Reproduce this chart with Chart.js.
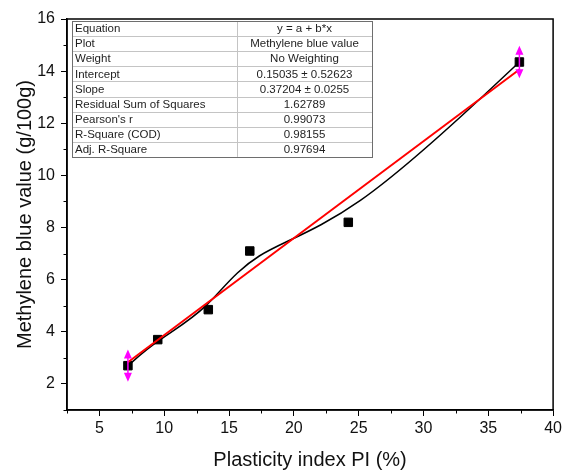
<!DOCTYPE html>
<html>
<head>
<meta charset="utf-8">
<title>Methylene blue vs PI</title>
<script src="https://cdn.jsdelivr.net/npm/chart.js@4.4.0/dist/chart.umd.min.js"></script>
<style>
    html, body { margin: 0; padding: 0; background: #fff; }
    #contenedor { width: 565px; height: 473px; }
</style>
</head>
<body>
<div id="contenedor"><canvas id="graficoAzul" width="565" height="473"></canvas></div>
<script>
// Datos medidos
const indicePlasticidad = [7.2, 9.5, 13.4, 16.6, 24.2, 37.4];
const azulMetileno = [2.7, 3.7, 4.85, 7.1, 8.2, 14.35];
const barrasError = [0.62, 0, 0, 0, 0, 0.62];

// Ajuste lineal (y = a + b*x)
const intercepto = 0.15035;
const pendiente = 0.37204;

// Tabla de resultados del ajuste
const filasTabla = ['Equation', 'Plot', 'Weight', 'Intercept', 'Slope',
    'Residual Sum of Squares', "Pearson's r", 'R-Square (COD)', 'Adj. R-Square'];
const valoresTabla = ['y = a + b*x', 'Methylene blue value', 'No Weighting',
    '0.15035 \u00b1 0.52623', '0.37204 \u00b1 0.0255', '1.62789', '0.99073', '0.98155', '0.97694'];

// Marcas de los ejes
const ticksX = [5, 10, 15, 20, 25, 30, 35, 40];
const ticksY = [2, 4, 6, 8, 10, 12, 14, 16];

const fuente = '"Liberation Sans", Arial, sans-serif';
const xMin = indicePlasticidad[0];
const xMax = indicePlasticidad[indicePlasticidad.length - 1];

const extras = {
    id: 'extras',
    // curva B-spline (puntos como control) debajo de todo
    beforeDatasetsDraw(chart) {
        const { ctx, scales: { x, y } } = chart;
        const p = indicePlasticidad.map((v, i) => [x.getPixelForValue(v), y.getPixelForValue(azulMetileno[i])]);
        const n = p.length;
        const cp = [p[0], p[0], ...p, p[n - 1], p[n - 1]];
        ctx.save();
        ctx.strokeStyle = '#000';
        ctx.lineWidth = 1.5;
        ctx.beginPath();
        ctx.moveTo(p[0][0], p[0][1]);
        for (let i = 0; i + 3 < cp.length; i++) {
            const B = cp[i + 1], C = cp[i + 2], D = cp[i + 3];
            ctx.bezierCurveTo(
                (2 * B[0] + C[0]) / 3, (2 * B[1] + C[1]) / 3,
                (B[0] + 2 * C[0]) / 3, (B[1] + 2 * C[1]) / 3,
                (B[0] + 4 * C[0] + D[0]) / 6, (B[1] + 4 * C[1] + D[1]) / 6);
        }
        ctx.stroke();
        ctx.restore();
    },
    afterDatasetsDraw(chart) {
        const { ctx, scales: { x, y } } = chart;
        ctx.save();
        ctx.strokeStyle = '#ff00ff';
        ctx.fillStyle = '#ff00ff';
        ctx.lineWidth = 1.5;
        barrasError.forEach((e, i) => {
            if (!e) return;
            const px = x.getPixelForValue(indicePlasticidad[i]);
            const arriba = y.getPixelForValue(azulMetileno[i] + e);
            const abajo = y.getPixelForValue(azulMetileno[i] - e);
            ctx.beginPath();
            ctx.moveTo(px, arriba + 4);
            ctx.lineTo(px, abajo - 4);
            ctx.stroke();
            // puntas de flecha
            ctx.beginPath();
            ctx.moveTo(px, arriba);
            ctx.lineTo(px - 4, arriba + 9);
            ctx.lineTo(px + 4, arriba + 9);
            ctx.closePath();
            ctx.moveTo(px, abajo);
            ctx.lineTo(px - 4, abajo - 9);
            ctx.lineTo(px + 4, abajo - 9);
            ctx.closePath();
            ctx.fill();
        });
        ctx.restore();
    },
    afterDraw(chart) {
        const { ctx, chartArea: a, scales: { x, y } } = chart;
        ctx.save();
        // marco del grafico
        ctx.strokeStyle = '#000';
        ctx.lineWidth = 1.5;
        ctx.strokeRect(a.left, a.top, a.right - a.left, a.bottom - a.top);
        // marcas menores
        ctx.lineWidth = 1;
        ctx.beginPath();
        for (let v = 2.5; v < 40; v += 5) {
            const px = Math.round(x.getPixelForValue(v)) + 0.5;
            ctx.moveTo(px, a.bottom);
            ctx.lineTo(px, a.bottom + 3.5);
        }
        for (let v = 1; v < 16; v += 2) {
            const py = Math.round(y.getPixelForValue(v)) + 0.5;
            ctx.moveTo(a.left, py);
            ctx.lineTo(a.left - 3.5, py);
        }
        ctx.stroke();

        // tabla del ajuste
        const izq = a.left + 5, sup = a.top + 2, ancho = 300, alto = 15.1, corte = 165;
        const total = alto * filasTabla.length;
        ctx.fillStyle = '#fff';
        ctx.fillRect(izq, sup, ancho, total);
        ctx.strokeStyle = '#c4c4c4';
        ctx.lineWidth = 1;
        ctx.beginPath();
        for (let i = 1; i < filasTabla.length; i++) {
            const yy = Math.round(sup + i * alto) + 0.5;
            ctx.moveTo(izq, yy);
            ctx.lineTo(izq + ancho, yy);
        }
        ctx.moveTo(Math.round(izq + corte) + 0.5, sup);
        ctx.lineTo(Math.round(izq + corte) + 0.5, sup + total);
        ctx.stroke();
        ctx.strokeStyle = '#6e6e6e';
        ctx.strokeRect(Math.round(izq) + 0.5, Math.round(sup) + 0.5, ancho, Math.round(total));
        ctx.fillStyle = '#1e1e1e';
        ctx.font = '11.5px ' + fuente;
        ctx.textBaseline = 'middle';
        filasTabla.forEach((t, i) => {
            const yy = sup + alto * (i + 0.5) + 0.5;
            ctx.textAlign = 'left';
            ctx.fillText(t, izq + 3, yy);
            ctx.textAlign = 'center';
            ctx.fillText(valoresTabla[i], izq + corte + (ancho - corte) / 2, yy);
        });
        ctx.restore();
    }
};

const ctx = document.getElementById('graficoAzul').getContext('2d');
new Chart(ctx, {
    type: 'scatter',
    data: {
        datasets: [{
            label: 'Methylene blue value',
            data: indicePlasticidad.map((v, i) => ({ x: v, y: azulMetileno[i] })),
            backgroundColor: '#000',
            borderColor: '#000',
            borderWidth: 1,
            pointStyle: 'rect',
            pointRadius: 6,
            order: 2
        }, {
            type: 'line',
            label: 'Linear Fit',
            data: [{ x: xMin, y: intercepto + pendiente * xMin }, { x: xMax, y: intercepto + pendiente * xMax }],
            borderColor: '#ff0000',
            borderWidth: 2,
            pointRadius: 0,
            fill: false,
            order: 1
        }]
    },
    options: {
        responsive: false,
        animation: false,
        layout: { padding: { top: 19, right: 10, left: 0, bottom: 0 } },
        plugins: { legend: { display: false }, tooltip: { enabled: false } },
        scales: {
            x: {
                type: 'linear',
                min: 2.5,
                max: 40,
                afterFit: s => { s.height = 63; },
                afterBuildTicks: s => { s.ticks = ticksX.map(v => ({ value: v })); },
                border: { display: true, color: '#000', width: 1.5 },
                grid: { drawOnChartArea: false, drawTicks: true, tickLength: 6, tickColor: '#000', tickWidth: 1 },
                ticks: { color: '#111', font: { family: fuente, size: 16 }, padding: 3, autoSkip: false, maxRotation: 0 },
                title: { display: true, text: 'Plasticity index PI (%)', color: '#111',
                         font: { family: fuente, size: 20 }, padding: { top: 0, bottom: 1 } }
            },
            y: {
                type: 'linear',
                min: 1,
                max: 16,
                afterFit: s => { s.width = 67; },
                afterBuildTicks: s => { s.ticks = ticksY.map(v => ({ value: v })); },
                border: { display: true, color: '#000', width: 1.5 },
                grid: { drawOnChartArea: false, drawTicks: true, tickLength: 6, tickColor: '#000', tickWidth: 1 },
                ticks: { color: '#111', font: { family: fuente, size: 16 }, padding: 6 },
                title: { display: true, text: 'Methylene blue value (g/100g)', color: '#111',
                         font: { family: fuente, size: 20 }, padding: { top: 13, bottom: 0 } }
            }
        }
    },
    plugins: [extras]
});
</script>
</body>
</html>
